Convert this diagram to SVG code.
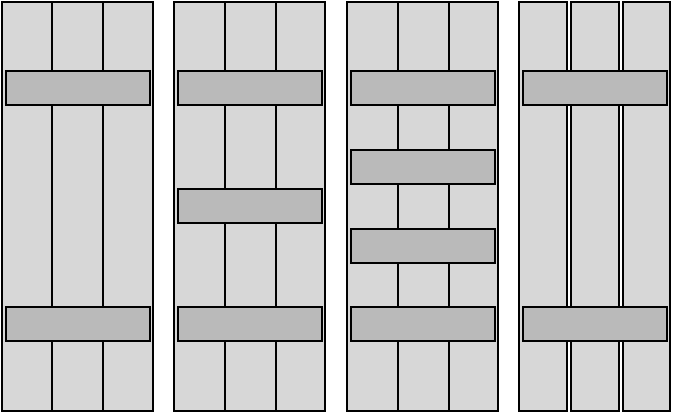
<svg xmlns="http://www.w3.org/2000/svg" width="673" height="414" viewBox="0 0 673 414">
<style>
.board{fill:#d7d7d7;stroke:#000;stroke-width:2}
.batten{fill:#bababa;stroke:#000;stroke-width:2}
</style>
<rect width="673" height="414" fill="#fff"/>
<g id="shutter1">
<rect class="board" x="2" y="2" width="50" height="409"/>
<rect class="board" x="52" y="2" width="51" height="409"/>
<rect class="board" x="103" y="2" width="50" height="409"/>
<rect class="batten" x="6" y="71" width="144" height="34"/>
<rect class="batten" x="6" y="307" width="144" height="34"/>
</g>
<g id="shutter2">
<rect class="board" x="174" y="2" width="51" height="409"/>
<rect class="board" x="225" y="2" width="51" height="409"/>
<rect class="board" x="276" y="2" width="49" height="409"/>
<rect class="batten" x="178" y="71" width="144" height="34"/>
<rect class="batten" x="178" y="189" width="144" height="34"/>
<rect class="batten" x="178" y="307" width="144" height="34"/>
</g>
<g id="shutter3">
<rect class="board" x="347" y="2" width="51" height="409"/>
<rect class="board" x="398" y="2" width="51" height="409"/>
<rect class="board" x="449" y="2" width="49" height="409"/>
<rect class="batten" x="351" y="71" width="144" height="34"/>
<rect class="batten" x="351" y="150" width="144" height="34"/>
<rect class="batten" x="351" y="229" width="144" height="34"/>
<rect class="batten" x="351" y="307" width="144" height="34"/>
</g>
<g id="shutter4">
<rect class="board" x="519" y="2" width="48" height="409"/>
<rect class="board" x="571" y="2" width="48" height="409"/>
<rect class="board" x="623" y="2" width="47" height="409"/>
<rect class="batten" x="523" y="71" width="144" height="34"/>
<rect class="batten" x="523" y="307" width="144" height="34"/>
</g>
</svg>
